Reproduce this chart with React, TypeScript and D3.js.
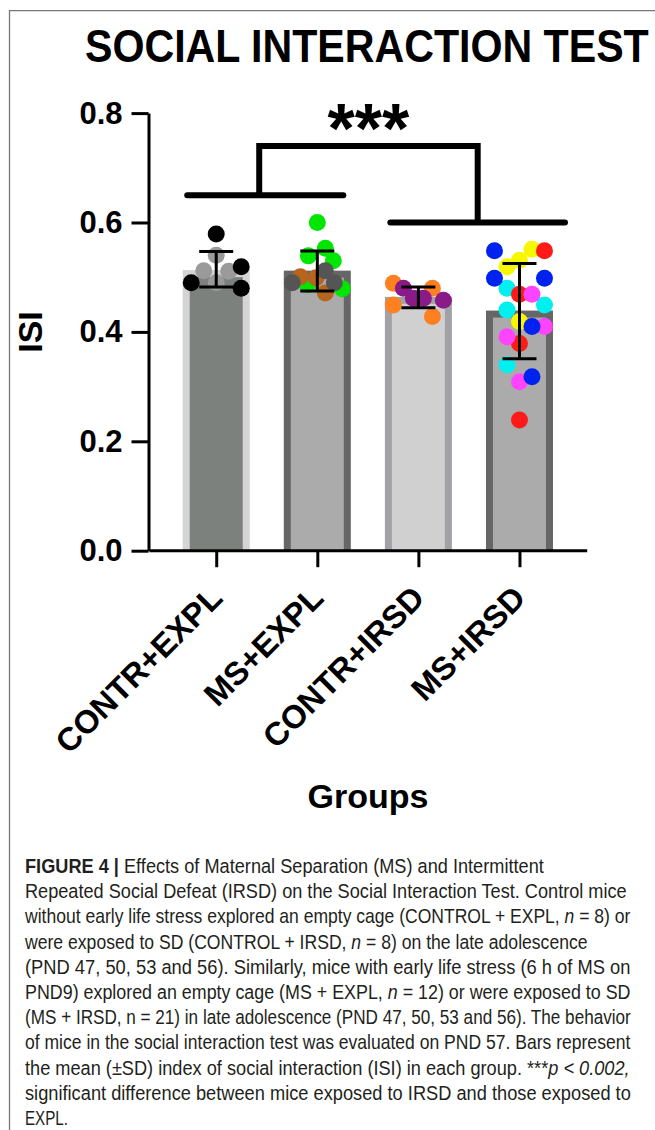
import React, { useEffect, useRef } from "react";
import * as d3 from "d3";

// --- data ---
const groups = ["CONTR+EXPL", "MS+EXPL", "CONTR+IRSD", "MS+IRSD"];
const means = [0.513, 0.512, 0.464, 0.439];
const sdLow = [0.482, 0.475, 0.444, 0.351];
const sdHigh = [0.547, 0.548, 0.482, 0.525];
const yTicks = [0, 0.2, 0.4, 0.6, 0.8];

// individual animals: value, subgroup, beeswarm column
const ctrlExplValues = [0.54, 0.512, 0.511, 0.49, 0.579, 0.519, 0.49, 0.48];
const ctrlExplSub = [1, 1, 1, 1, 0, 0, 0, 0];
const ctrlExplCol = [0, -1, 1, 0, 0, 2, -2, 2];

const msExplValues = [0.6, 0.553, 0.539, 0.53, 0.479, 0.486, 0.501, 0.499, 0.471, 0.512, 0.49, 0.49];
const msExplSub = [0, 0, 0, 0, 0, 0, 1, 1, 1, 2, 2, 2];
const msExplCol = [0, 0.64, -0.72, 1.28, 2, -0.8, -1.36, -0.1, 0.64, 0.64, -2, 1.36];

const ctrlIrsdValues = [0.489, 0.48, 0.449, 0.428, 0.48, 0.4615, 0.4615, 0.458];
const ctrlIrsdSub = [0, 0, 0, 0, 1, 1, 1, 1];
const ctrlIrsdCol = [-2, 1.12, -2, 1.12, -1.2, -0.4, 0.4, 2];

const msIrsdValues = [0.48, 0.449, 0.44, 0.34, 0.551, 0.531, 0.519, 0.419, 0.5485, 0.469, 0.379, 0.239, 0.469, 0.41, 0.391, 0.309, 0.5485, 0.498, 0.498, 0.41, 0.318];
const msIrsdSub = [0, 0, 0, 0, 1, 1, 1, 1, 2, 2, 2, 2, 3, 3, 3, 3, 4, 4, 4, 4, 4];
const msIrsdCol = [-1, 2, -1, -1, 1, 0, -1, 0, 2, 0, 0, 0, 1, 2, -1, 0, -2, -2, 2, 1, 1];

const brackets = { left: 0.65, right: 0.6, top: 0.74 };

const captionLines: { t: string; b?: boolean; i?: boolean }[][] = [
  [{ t: "FIGURE 4 | ", b: true }, { t: "Effects of Maternal Separation (MS) and Intermittent" }],
  [{ t: "Repeated Social Defeat (IRSD) on the Social Interaction Test. Control mice" }],
  [{ t: "without early life stress explored an empty cage (CONTROL + EXPL, " }, { t: "n", i: true }, { t: " = 8) or" }],
  [{ t: "were exposed to SD (CONTROL + IRSD, " }, { t: "n", i: true }, { t: " = 8) on the late adolescence" }],
  [{ t: "(PND 47, 50, 53 and 56). Similarly, mice with early life stress (6 h of MS on" }],
  [{ t: "PND9) explored an empty cage (MS + EXPL, " }, { t: "n", i: true }, { t: " = 12) or were exposed to SD" }],
  [{ t: "(MS + IRSD, n = 21) in late adolescence (PND 47, 50, 53 and 56). The behavior" }],
  [{ t: "of mice in the social interaction test was evaluated on PND 57. Bars represent" }],
  [{ t: "the mean (\u00b1SD) index of social interaction (ISI) in each group. ***" }, { t: "p < 0.002,", i: true }],
  [{ t: "significant difference between mice exposed to IRSD and those exposed to" }],
  [{ t: "EXPL." }],
];
const captionEnds = [544, 627, 631, 588, 631, 631, 631, 631, 630, 631, 68];

// --- styles ---
const barFill = ["#7c817d", "#ababab", "#d0d0d0", "#ababab"];
const barEdge = ["#d4d4d4", "#666666", "#a3a1a5", "#666666"];
const dotColors = [
  ["#000000", "#9a9a9a"],
  ["#00e600", "#b5651d", "#555555"],
  ["#ff8020", "#8b1a89"],
  ["#00f0f0", "#f7f700", "#ff1a1a", "#ff44ff", "#0022ee"],
];
const FONT = "'Liberation Sans', Arial, Helvetica, sans-serif";

const pointSets = [
  [ctrlExplValues, ctrlExplSub, ctrlExplCol],
  [msExplValues, msExplSub, msExplCol],
  [ctrlIrsdValues, ctrlIrsdSub, ctrlIrsdCol],
  [msIrsdValues, msIrsdSub, msIrsdCol],
];

// squeeze a text horizontally so it spans `width` px starting at (x0, y0)
const fitWidth = (t: d3.Selection<SVGTextElement, unknown, null, undefined>, x0: number, y0: number, width: number) => {
  const natural = (t.node() as SVGTextElement).getComputedTextLength() || width;
  t.attr("transform", `translate(${x0},${y0}) scale(${width / natural},1)`);
};

const App = () => {
  const ref = useRef<SVGSVGElement | null>(null);

  useEffect(() => {
    if (!ref.current) return;
    const svg = d3.select(ref.current);
    svg.selectAll("*").remove();

    const W = 655;
    const H = 1130;

    // frame
    svg.append("path")
      .attr("d", `M9.5,${H}V10.7H${W}`)
      .attr("fill", "none")
      .attr("stroke", "#777")
      .attr("stroke-width", 1.3);

    // title
    const title = svg.append("text")
      .attr("font-family", FONT)
      .attr("font-weight", "bold")
      .attr("font-size", 46)
      .text("SOCIAL INTERACTION TEST");
    fitWidth(title, 85, 62, 564);

    // scales
    const y = d3.scaleLinear().domain([0, 0.8]).range([550.7, 113.1]);
    const x = d3.scalePoint<string>().domain(groups).range([149, 586.7]).padding(0.665);
    const barW = 67;
    const edge = 7;
    const jitter = d3.scaleLinear().domain([-2, 2]).range([-25, 25]);

    // bars
    const bars = svg.append("g");
    groups.forEach((g, i) => {
      const cx = x(g) as number;
      bars.append("rect")
        .attr("x", cx - barW / 2)
        .attr("y", y(means[i]))
        .attr("width", barW)
        .attr("height", y(0) - y(means[i]))
        .attr("fill", barEdge[i]);
      bars.append("rect")
        .attr("x", cx - barW / 2 + edge)
        .attr("y", y(means[i]) + edge)
        .attr("width", barW - 2 * edge)
        .attr("height", y(0) - y(means[i]) - edge)
        .attr("fill", barFill[i]);
    });

    // dots
    const dots = svg.append("g");
    groups.forEach((g, i) => {
      const cx = x(g) as number;
      const [vals, subs, cols] = pointSets[i];
      vals.forEach((v, k) => {
        dots.append("circle")
          .attr("cx", cx + jitter(cols[k]))
          .attr("cy", y(v))
          .attr("r", 8.5)
          .attr("fill", dotColors[i][subs[k]]);
      });
    });

    // error bars
    const err = svg.append("g").attr("stroke", "#000").attr("stroke-width", 3);
    groups.forEach((g, i) => {
      const cx = x(g) as number;
      err.append("line").attr("x1", cx).attr("x2", cx).attr("y1", y(sdLow[i])).attr("y2", y(sdHigh[i]));
      [sdLow[i], sdHigh[i]].forEach((v) => {
        err.append("line").attr("x1", cx - 17).attr("x2", cx + 17).attr("y1", y(v)).attr("y2", y(v));
      });
    });

    // axes
    const yAxis = svg.append("g")
      .attr("transform", `translate(${149 - 0.5},0)`)
      .call(d3.axisLeft(y).tickValues(yTicks).tickFormat(d3.format(".1f")).tickSize(17).tickSizeOuter(0).tickPadding(9));
    yAxis.selectAll("path, line").attr("stroke", "#000").attr("stroke-width", 3);
    yAxis.selectAll("text")
      .attr("font-family", FONT)
      .attr("font-weight", "bold")
      .attr("font-size", 31)
      .attr("fill", "#000");

    const xAxis = svg.append("g")
      .attr("transform", `translate(0,${y(0) - 0.5})`)
      .call(d3.axisBottom(x).tickSize(17).tickSizeOuter(0).tickFormat(() => ""));
    xAxis.selectAll("path, line").attr("stroke", "#000").attr("stroke-width", 3);

    // rotated category labels
    groups.forEach((g) => {
      const ax = (x(g) as number) + 8;
      svg.append("text")
        .attr("transform", `translate(${ax},600) rotate(-45)`)
        .attr("text-anchor", "end")
        .attr("font-family", FONT)
        .attr("font-weight", "bold")
        .attr("font-size", 32.5)
        .text(g);
    });

    // axis titles
    svg.append("text")
      .attr("transform", "translate(42,332) rotate(-90)")
      .attr("text-anchor", "middle")
      .attr("font-family", FONT)
      .attr("font-weight", "bold")
      .attr("font-size", 34)
      .text("ISI");
    svg.append("text")
      .attr("x", 368)
      .attr("y", 808)
      .attr("text-anchor", "middle")
      .attr("font-family", FONT)
      .attr("font-weight", "bold")
      .attr("font-size", 34)
      .text("Groups");

    // significance bracket
    const x0 = x(groups[0]) as number;
    const x1 = x(groups[1]) as number;
    const x2 = x(groups[2]) as number;
    const x3 = x(groups[3]) as number;
    const lStart = x0 - 29, lEnd = x1 + 26, lStem = x0 + 43;
    const rStart = x2 - 28, rEnd = x3 + 45.5, rStem = (rStart + rEnd) / 2;
    const br = svg.append("g").attr("fill", "none").attr("stroke", "#000").attr("stroke-width", 6);
    br.append("path").attr("d", `M${lStart},${y(brackets.left)}H${lEnd}`).attr("stroke-linecap", "round");
    br.append("path").attr("d", `M${rStart},${y(brackets.right)}H${rEnd}`).attr("stroke-linecap", "round");
    br.append("path")
      .attr("d", `M${lStem},${y(brackets.left)}V${y(brackets.top)}H${rStem}V${y(brackets.right)}`)
      .attr("stroke-linejoin", "miter");
    svg.append("text")
      .attr("x", (lStem + rStem) / 2)
      .attr("y", 153)
      .attr("text-anchor", "middle")
      .attr("font-family", FONT)
      .attr("font-weight", "bold")
      .attr("font-size", 70)
      .text("***");

    // caption (lines are squeezed to the reference's justified widths)
    const cap = svg.append("g")
      .attr("font-family", FONT)
      .attr("font-size", 19.5)
      .attr("fill", "#231f20");
    captionLines.forEach((segs, i) => {
      const t = cap.append("text");
      segs.forEach((s) => {
        t.append("tspan")
          .attr("font-weight", s.b ? "bold" : null)
          .attr("font-style", s.i ? "italic" : null)
          .text(s.t);
      });
      fitWidth(t, 25, 873 + 25.2 * i, captionEnds[i] - 25);
    });
  }, []);

  return (
    <svg
      ref={ref}
      width={655}
      height={1130}
      style={{ position: "absolute", left: 0, top: 0, background: "#fff" }}
    />
  );
};

export default App;
